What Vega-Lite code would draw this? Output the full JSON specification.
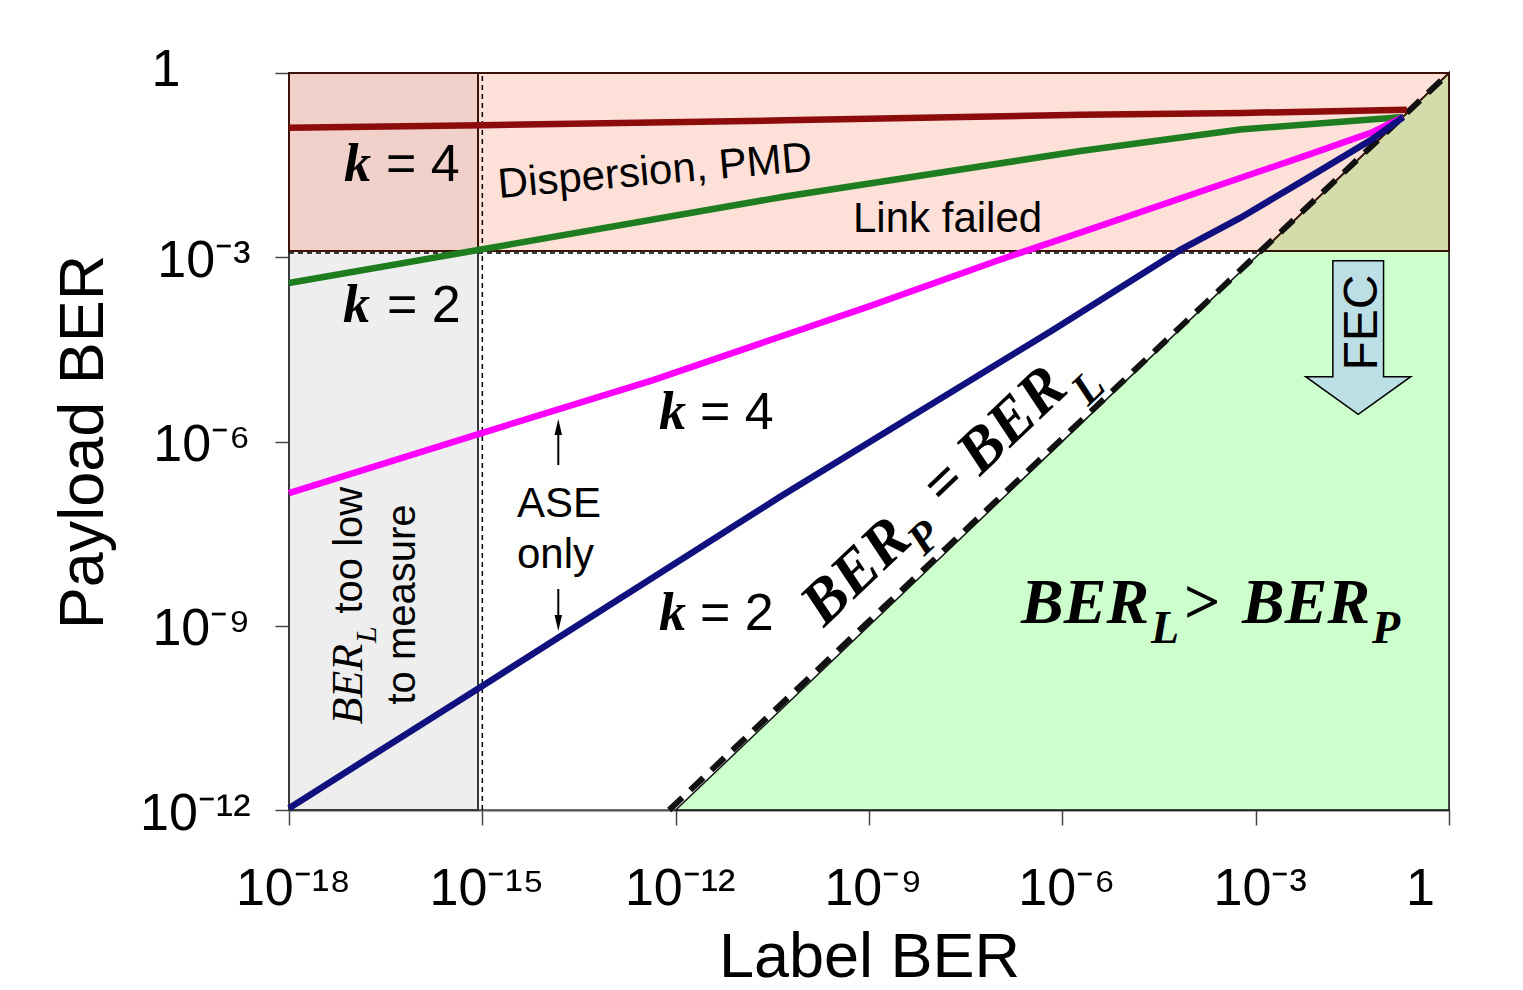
{
  "$schema": "https://vega.github.io/schema/vega-lite/v6.json",
  "width": 1160,
  "height": 737,
  "autosize": {"type": "none"},
  "padding": {"left": 289, "top": 73, "right": 74, "bottom": 180},
  "background": "white",
  "config": {"view": {"stroke": "#8c8c8c", "strokeWidth": 2}, "font": "Liberation Sans"},
  "encoding": {
    "x": {
      "field": "x", "type": "quantitative",
      "scale": {"type": "log", "domain": [1e-18, 1], "nice": false},
      "axis": {
        "title": "Label BER", "values": [1e-18, 1e-15, 1e-12, 1e-9, 1e-6, 1e-3, 1],
        "labelExpr": "datum.value > 0.5 ? '1' : datum.value > 1e-4 ? '10\u207b\u00b3' : datum.value > 1e-7 ? '10\u207b\u2076' : datum.value > 1e-10 ? '10\u207b\u2079' : datum.value > 1e-13 ? '10\u207b\u00b9\u00b2' : datum.value > 1e-16 ? '10\u207b\u00b9\u2075' : '10\u207b\u00b9\u2078'",
        "labelOffset": {"condition": {"test": "datum.value > 0.5", "value": -29}, "value": 4},
        "grid": false, "tickSize": 15, "tickColor": "#444", "tickWidth": 1.5,
        "domainColor": "#555", "domainWidth": 2,
        "labelFont": "Liberation Sans", "labelFontSize": 52, "labelColor": "#000", "labelPadding": 38, "labelFlush": false, "labelOverlap": false,
        "titleFont": "Liberation Sans", "titleFontSize": 63, "titleFontWeight": "normal", "titleColor": "#000", "titlePadding": 12
      }
    },
    "y": {
      "field": "y", "type": "quantitative",
      "scale": {"type": "log", "domain": [1e-12, 1], "nice": false},
      "axis": {
        "title": "Payload BER", "values": [1e-12, 1e-9, 1e-6, 1e-3, 1],
        "labelExpr": "datum.value > 0.5 ? '1' : datum.value > 1e-4 ? '10\u207b\u00b3' : datum.value > 1e-7 ? '10\u207b\u2076' : datum.value > 1e-10 ? '10\u207b\u2079' : '10\u207b\u00b9\u00b2'",
        "labelPadding": {"condition": {"test": "datum.value > 0.5", "value": 95}, "value": 25},
        "labelOffset": {"condition": {"test": "datum.value > 0.5", "value": -4}, "value": 3},
        "grid": false, "tickSize": 14, "tickColor": "#444", "tickWidth": 1.5,
        "domainColor": "#222", "domainWidth": 2,
        "labelFont": "Liberation Sans", "labelFontSize": 52, "labelColor": "#000", "labelFlush": false, "labelOverlap": false,
        "titleFont": "Liberation Sans", "titleFontSize": 63, "titleFontWeight": "normal", "titleColor": "#000", "titlePadding": 24
      }
    }
  },
  "layer": [
    {
      "data": {"values": [
        {"region": "grey", "x": 1e-18, "x2": 8.57e-16, "y": 1e-12, "y2": 1.259e-3},
        {"region": "pink", "x": 1e-18, "x2": 1, "y": 1.259e-3, "y2": 1},
        {"region": "overlap", "x": 1e-18, "x2": 8.57e-16, "y": 1.259e-3, "y2": 1}
      ]},
      "mark": {"type": "rect", "strokeWidth": 2},
      "encoding": {
        "x2": {"field": "x2"}, "y2": {"field": "y2"},
        "fill": {"field": "region", "type": "nominal", "scale": {"domain": ["grey", "pink", "overlap"], "range": ["#eeeeee", "#fde0d8", "#f0d0c8"]}, "legend": null},
        "stroke": {"field": "region", "type": "nominal", "scale": {"domain": ["grey", "pink", "overlap"], "range": ["#3a3a3a", "#3a1208", "#3a1208"]}, "legend": null}
      }
    },
    {
      "data": {"values": [{"x": 1e-12, "y": 1e-12, "y2": 1e-12}, {"x": 1, "y": 1, "y2": 1e-12}]},
      "mark": {"type": "area", "fill": "#ccffcc", "stroke": "#111111", "strokeWidth": 1.5, "opacity": 1},
      "encoding": {"y2": {"field": "y2"}}
    },
    {
      "data": {"values": [{"x": 1.259e-3, "y": 1.259e-3, "y2": 1.259e-3}, {"x": 1, "y": 1, "y2": 1.259e-3}]},
      "mark": {"type": "area", "fill": "#d3dcab", "stroke": "#3a1208", "strokeWidth": 2, "opacity": 1},
      "encoding": {"y2": {"field": "y2"}}
    },
    {
      "data": {"values": [
        {"x": 1e-15, "x2": 1e-15, "y": 1e-12, "y2": 1},
        {"x": 1e-18, "x2": 1.175e-3, "y": 1.175e-3, "y2": 1.175e-3}
      ]},
      "mark": {"type": "rule", "color": "#000", "strokeWidth": 1.5, "strokeDash": [5, 4]},
      "encoding": {"x2": {"field": "x2"}, "y2": {"field": "y2"}}
    },
    {
      "data": {"values": [{"x": 7.94e-13, "y": 1e-12}, {"x": 1, "y": 1}]},
      "mark": {"type": "line", "color": "#111111", "strokeWidth": 6, "strokeDash": [18, 11]},
      "encoding": {}
    },
    {
      "data": {"values": [
        {"s": "red", "x": 1e-18, "y": 0.1288},
        {"s": "red", "x": 1e-15, "y": 0.1413},
        {"s": "red", "x": 5.012e-11, "y": 0.1698},
        {"s": "red", "x": 1.995e-6, "y": 0.2089},
        {"s": "red", "x": 6.31e-4, "y": 0.2239},
        {"s": "red", "x": 0.2213, "y": 0.2512},
        {"s": "green", "x": 1e-18, "y": 3.802e-4},
        {"s": "green", "x": 1e-15, "y": 1.349e-3},
        {"s": "green", "x": 5.012e-11, "y": 9.772e-3},
        {"s": "green", "x": 1.905e-6, "y": 0.0537},
        {"s": "green", "x": 5.754e-4, "y": 0.1202},
        {"s": "green", "x": 0.195, "y": 0.192},
        {"s": "magenta", "x": 1e-18, "y": 1.445e-7},
        {"s": "magenta", "x": 1e-15, "y": 1.38e-6},
        {"s": "magenta", "x": 4.467e-13, "y": 1e-5},
        {"s": "magenta", "x": 1e-9, "y": 1.585e-4},
        {"s": "magenta", "x": 1.072e-7, "y": 9.12e-4},
        {"s": "magenta", "x": 1.905e-6, "y": 2.512e-3},
        {"s": "magenta", "x": 5.754e-4, "y": 0.0195},
        {"s": "magenta", "x": 6.166e-3, "y": 0.0457},
        {"s": "magenta", "x": 0.0661, "y": 0.1096},
        {"s": "magenta", "x": 0.195, "y": 0.192},
        {"s": "navy", "x": 1e-18, "y": 1.072e-12},
        {"s": "navy", "x": 1e-15, "y": 1.047e-10},
        {"s": "navy", "x": 4.169e-11, "y": 1.259e-7},
        {"s": "navy", "x": 7.244e-7, "y": 6.607e-5},
        {"s": "navy", "x": 6.761e-5, "y": 1.318e-3},
        {"s": "navy", "x": 5.754e-4, "y": 4.365e-3},
        {"s": "navy", "x": 6.166e-3, "y": 0.01905},
        {"s": "navy", "x": 0.0661, "y": 0.0851},
        {"s": "navy", "x": 0.195, "y": 0.192}
      ]},
      "mark": {"type": "line", "strokeWidth": 6.5},
      "encoding": {
        "color": {"field": "s", "type": "nominal", "scale": {"domain": ["red", "green", "magenta", "navy"], "range": ["#8c0c0c", "#1e7d1e", "#ff00ff", "#10107f"]}, "legend": null}
      }
    },
    {
      "data": {"values": [{"x": 0.03901, "y": 4.935e-5}]},
      "mark": {"type": "point", "shape": "M -0.33 -1 L 0.33 -1 L 0.33 0.51 L 0.684 0.51 L 0 1 L -0.684 0.51 L -0.33 0.51 Z", "size": 23600, "filled": true, "fill": "#bcdfe6", "stroke": "#000000", "strokeWidth": 1.5, "opacity": 1}
    },
    {
      "data": {"values": [{"t": "FEC", "x": 0.07638, "y": 8.661e-5}]},
      "mark": {"type": "text", "font": "Liberation Sans", "fontSize": 48, "angle": -90, "align": "center", "baseline": "alphabetic", "color": "#000"},
      "encoding": {"text": {"field": "t"}}
    },
    {
      "data": {"values": [
        {"x": 1.509e-14, "x2": 1.509e-14, "y": 1.722e-6, "y2": 4.143e-7},
        {"x": 1.509e-14, "x2": 1.509e-14, "y": 3.966e-9, "y2": 1.109e-9}
      ]},
      "mark": {"type": "rule", "color": "#000", "strokeWidth": 2},
      "encoding": {"x2": {"field": "x2"}, "y2": {"field": "y2"}}
    },
    {
      "data": {"values": [{"x": 1.509e-14, "y": 1.722e-6}]},
      "mark": {"type": "point", "shape": "M 0 -1 L 0.47 1 L -0.47 1 Z", "size": 256, "filled": true, "color": "#000", "opacity": 1}
    },
    {
      "data": {"values": [{"x": 1.509e-14, "y": 1.109e-9}]},
      "mark": {"type": "point", "shape": "M 0 1 L 0.47 -1 L -0.47 -1 Z", "size": 256, "filled": true, "color": "#000", "opacity": 1}
    },
    {
      "data": {"values": [
        {"t": "k", "x": 7.137e-18, "y": 0.01744},
        {"t": "k", "x": 6.887e-18, "y": 8.826e-5},
        {"t": "k", "x": 5.512e-13, "y": 1.58e-6},
        {"t": "k", "x": 5.512e-13, "y": 8.527e-10}
      ]},
      "mark": {"type": "text", "font": "Liberation Serif", "fontStyle": "italic", "fontWeight": "bold", "fontSize": 54, "align": "left", "baseline": "alphabetic", "color": "#000"},
      "encoding": {"text": {"field": "t"}}
    },
    {
      "data": {"values": [
        {"t": "= 4", "x": 3.2e-17, "y": 0.01744},
        {"t": "= 2", "x": 3.317e-17, "y": 8.826e-5},
        {"t": "= 4", "x": 2.386e-12, "y": 1.58e-6},
        {"t": "= 2", "x": 2.386e-12, "y": 8.527e-10}
      ]},
      "mark": {"type": "text", "font": "Liberation Sans", "fontSize": 52, "align": "left", "baseline": "alphabetic", "color": "#000"},
      "encoding": {"text": {"field": "t"}}
    },
    {
      "data": {"values": [
        {"t": "Link failed", "x": 5.646e-10, "y": 2.606e-3},
        {"t": "ASE", "x": 3.451e-15, "y": 5.965e-8},
        {"t": "only", "x": 3.451e-15, "y": 8.714e-9}
      ]},
      "mark": {"type": "text", "font": "Liberation Sans", "fontSize": 42, "align": "left", "baseline": "alphabetic", "color": "#000"},
      "encoding": {"text": {"field": "t"}}
    },
    {
      "data": {"values": [{"t": "Dispersion, PMD", "x": 1.814e-15, "y": 9.22e-3}]},
      "mark": {"type": "text", "font": "Liberation Sans", "fontSize": 42, "angle": -5, "align": "left", "baseline": "alphabetic", "color": "#000"},
      "encoding": {"text": {"field": "t"}}
    },
    {
      "data": {"values": [
        {"t": "BER", "x": 2.284e-7, "y": 1.109e-9},
        {"t": "BER", "x": 6.138e-4, "y": 1.109e-9}
      ]},
      "mark": {"type": "text", "font": "Liberation Serif", "fontStyle": "italic", "fontWeight": "bold", "fontSize": 64, "align": "left", "baseline": "alphabetic", "color": "#000"},
      "encoding": {"text": {"field": "t"}}
    },
    {
      "data": {"values": [{"t": ">", "x": 7.727e-5, "y": 1.109e-9}]},
      "mark": {"type": "text", "font": "Liberation Serif", "fontWeight": "bold", "fontSize": 64, "align": "left", "baseline": "alphabetic", "color": "#000"},
      "encoding": {"text": {"field": "t"}}
    },
    {
      "data": {"values": [
        {"t": "L", "x": 2.377e-5, "y": 5.239e-10},
        {"t": "P", "x": 0.06383, "y": 5.239e-10}
      ]},
      "mark": {"type": "text", "font": "Liberation Serif", "fontStyle": "italic", "fontWeight": "bold", "fontSize": 46, "align": "left", "baseline": "alphabetic", "color": "#000"},
      "encoding": {"text": {"field": "t"}}
    },
    {
      "data": {"values": [
        {"t": "BER", "x": 2.003e-10, "y": 9.193e-10},
        {"t": "BER", "x": 5.278e-8, "y": 2.673e-7}
      ]},
      "mark": {"type": "text", "font": "Liberation Serif", "fontStyle": "italic", "fontWeight": "bold", "fontSize": 62, "angle": -43.6, "align": "left", "baseline": "alphabetic", "color": "#000"},
      "encoding": {"text": {"field": "t"}}
    },
    {
      "data": {"values": [
        {"t": "P", "x": 7.137e-9, "y": 1.316e-8},
        {"t": "L", "x": 2.502e-6, "y": 3.646e-6}
      ]},
      "mark": {"type": "text", "font": "Liberation Serif", "fontStyle": "italic", "fontWeight": "bold", "fontSize": 44, "angle": -43.6, "align": "left", "baseline": "alphabetic", "color": "#000"},
      "encoding": {"text": {"field": "t"}}
    },
    {
      "data": {"values": [{"t": "=", "x": 2.32e-8, "y": 1.296e-7}]},
      "mark": {"type": "text", "font": "Liberation Serif", "fontWeight": "bold", "fontSize": 60, "angle": -43.6, "align": "center", "baseline": "alphabetic", "color": "#000"},
      "encoding": {"text": {"field": "t"}}
    },
    {
      "data": {"values": [{"t": "BER", "x": 1.358e-17, "y": 2.457e-11}]},
      "mark": {"type": "text", "font": "Liberation Serif", "fontStyle": "italic", "fontSize": 44, "angle": -90, "align": "left", "baseline": "alphabetic", "color": "#000"},
      "encoding": {"text": {"field": "t"}}
    },
    {
      "data": {"values": [{"t": "L", "x": 2.239e-17, "y": 5.239e-10}]},
      "mark": {"type": "text", "font": "Liberation Serif", "fontStyle": "italic", "fontSize": 30, "angle": -90, "align": "left", "baseline": "alphabetic", "color": "#000"},
      "encoding": {"text": {"field": "t"}}
    },
    {
      "data": {"values": [{"t": "too low", "x": 1.358e-17, "y": 1.578e-9}]},
      "mark": {"type": "text", "font": "Liberation Sans", "fontSize": 40, "angle": -90, "align": "left", "baseline": "alphabetic", "color": "#000"},
      "encoding": {"text": {"field": "t"}}
    },
    {
      "data": {"values": [{"t": "to measure", "x": 9.02e-17, "y": 2.218e-9}]},
      "mark": {"type": "text", "font": "Liberation Sans", "fontSize": 40, "angle": -90, "align": "center", "baseline": "alphabetic", "color": "#000"},
      "encoding": {"text": {"field": "t"}}
    }
  ]
}
